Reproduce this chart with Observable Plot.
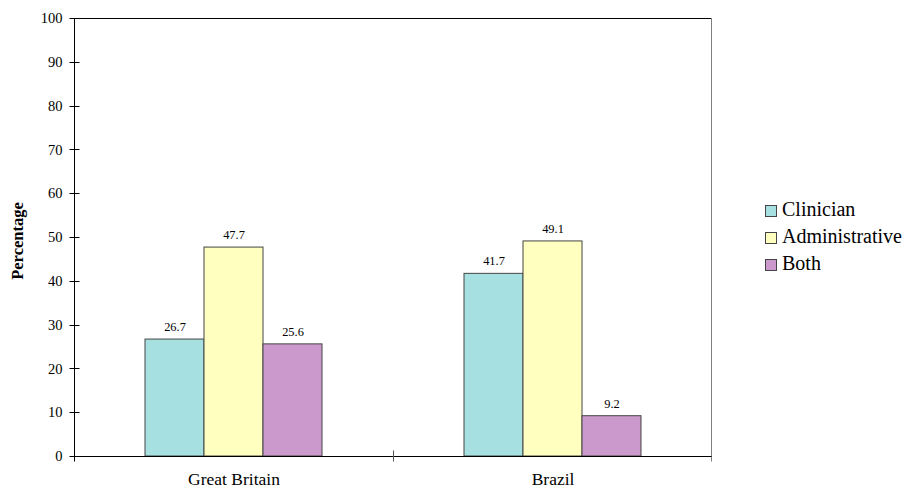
<!DOCTYPE html>
<html><head><meta charset="utf-8">
<script src="https://cdn.jsdelivr.net/npm/d3@7"></script>
<script src="https://cdn.jsdelivr.net/npm/@observablehq/plot@0.6"></script>
<style>
body{margin:0;background:#fff;}
#wrap{position:relative;width:906px;height:488px;font-family:"Liberation Serif","Times New Roman",serif;}
#wrap svg{display:block;}
.legend{position:absolute;left:765px;top:196px;}
.item{display:flex;align-items:center;height:27px;font-size:20px;color:#000;white-space:nowrap;}
.sw{width:12px;height:12px;border:1px solid #444;margin-right:5px;box-sizing:border-box;margin-top:2px;}
</style></head><body><div id="wrap"></div>
<script>
const countries = ["Great Britain", "Brazil"];
const roles = ["Clinician", "Administrative", "Both"];
const clinician = [26.7, 41.7];
const administrative = [47.7, 49.1];
const both = [25.6, 9.2];
const roleColors = ["#a6e0e0", "#ffffc0", "#cc99cc"];
const yTicks = [0, 10, 20, 30, 40, 50, 60, 70, 80, 90, 100];
const yLabel = "Percentage";

const series = [clinician, administrative, both];
const data = [];
countries.forEach((c, i) => roles.forEach((r, j) => data.push({country: c, role: r, value: series[j][i]})));

const W = 906, H = 488, mL = 74, mR = 194, mT = 18, mB = 32;

const chart = Plot.plot({
  width: W, height: H,
  marginLeft: mL, marginRight: mR, marginTop: mT, marginBottom: mB,
  style: {fontFamily: '"Liberation Serif","Times New Roman",serif', color: "#000", background: "#fff"},
  fx: {domain: countries, padding: 0, label: null},
  x: {domain: roles, paddingInner: 0, paddingOuter: 1.19, axis: null},
  y: {domain: [0, 100], label: null},
  color: {domain: roles, range: roleColors},
  marks: [
    Plot.barY(data, {fx: "country", x: "role", y: "value", fill: "role", stroke: "#444", strokeWidth: 1}),
    Plot.text(data, {fx: "country", x: "role", y: "value", text: d => d.value.toFixed(1), dy: -12.5, fontSize: 12.4, fill: "#000"}),
    Plot.axisY(yTicks, {tickSize: 0, tickPadding: 12, fontSize: 14.5, label: null}),
    Plot.axisFx({anchor: "bottom", tickSize: 0, tickPadding: 16.5, fontSize: 17.5, label: null})
  ]
});

document.getElementById("wrap").appendChild(chart);

// frame, axis lines and ticks drawn from Plot's own scales
const ys = chart.scale("y");
let fxs = null;
try { fxs = chart.scale("fx"); } catch (e) { fxs = null; }
const bw = fxs && fxs.bandwidth ? fxs.bandwidth : (W - mL - mR) / countries.length;
const starts = countries.map((c, i) => fxs && fxs.apply ? fxs.apply(c) : mL + i * bw);
const xL = Math.round(starts[0]) + 0.5;
const xR = Math.round(starts[starts.length - 1] + bw) - 0.5;
const y0 = Math.round(ys.apply(0)) + 0.5;
const y100 = Math.round(ys.apply(100)) + 0.5;

const svg = d3.select(chart);
const g = svg.append("g").attr("fill", "none").attr("stroke-width", 1);
// top
g.append("line").attr("x1", xL).attr("x2", xR).attr("y1", y100).attr("y2", y100).attr("stroke", "#000");
// right
g.append("line").attr("x1", xR).attr("x2", xR).attr("y1", y100).attr("y2", y0 + 5).attr("stroke", "#808080");
// left axis
g.append("line").attr("x1", xL).attr("x2", xL).attr("y1", y100).attr("y2", y0 + 5).attr("stroke", "#000");
// bottom axis
g.append("line").attr("x1", xL).attr("x2", xR).attr("y1", y0).attr("y2", y0).attr("stroke", "#000");
// y ticks crossing the axis
yTicks.forEach(t => {
  const yy = Math.round(ys.apply(t)) + 0.5;
  g.append("line").attr("x1", xL - 5).attr("x2", xL + 5).attr("y1", yy).attr("y2", yy).attr("stroke", "#000");
});
// category boundary ticks
for (let i = 1; i < countries.length; i++) {
  const xx = Math.round(starts[i]) + 0.5;
  g.append("line").attr("x1", xx).attr("x2", xx).attr("y1", y0 - 6).attr("y2", y0 + 5).attr("stroke", "#555");
}
// y label
svg.append("text")
  .attr("transform", `translate(19,${(ys.apply(0) + ys.apply(100)) / 2 + 4}) rotate(-90)`)
  .attr("text-anchor", "middle").attr("dominant-baseline", "middle")
  .attr("font-weight", "bold").attr("font-size", 16.5).attr("fill", "#000")
  .text(yLabel);

// legend
const legend = d3.select("#wrap").append("div").attr("class", "legend");
roles.forEach((r, i) => {
  const it = legend.append("div").attr("class", "item");
  it.append("div").attr("class", "sw").style("background", roleColors[i]);
  it.append("span").text(r);
});
</script></body></html>
